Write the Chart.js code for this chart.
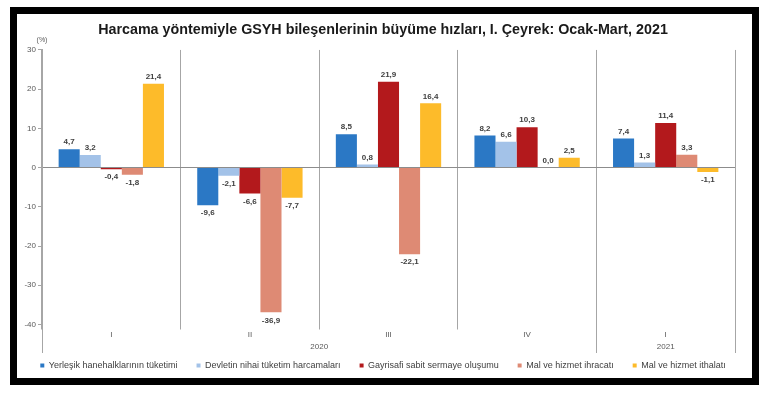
<!DOCTYPE html>
<html><head><meta charset="utf-8">
<script src="https://cdn.jsdelivr.net/npm/chart.js@4.4.1/dist/chart.umd.min.js"></script>
<style>html,body{margin:0;padding:0;background:#fff;} canvas{display:block;}</style>
</head><body>
<canvas id="c" width="766" height="398"></canvas>
<script>
// ---- data ----
const quarterLabels = ['I', 'II', 'III', 'IV', 'I'];
const years = ['2020', '2021'];
const yearSpans = [4, 1];
const seriesNames = [
  'Yerleşik hanehalklarının tüketimi',
  'Devletin nihai tüketim harcamaları',
  'Gayrisafi sabit sermaye oluşumu',
  'Mal ve hizmet ihracatı',
  'Mal ve hizmet ithalatı'
];
const hanehalki = [4.7, -9.6, 8.5, 8.2, 7.4];
const devlet = [3.2, -2.1, 0.8, 6.6, 1.3];
const sabitSermaye = [-0.4, -6.6, 21.9, 10.3, 11.4];
const ihracat = [-1.8, -36.9, -22.1, 0.0, 3.3];
const ithalat = [21.4, -7.7, 16.4, 2.5, -1.1];
const yMin = -40, yMax = 30, yStep = 10;
const chartTitle = 'Harcama yöntemiyle GSYH bileşenlerinin büyüme hızları, I. Çeyrek: Ocak-Mart, 2021';
const unitLabel = '(%)';

const seriesColors = ['#2B78C5', '#A3C2E8', '#B3191C', '#DE8A74', '#FDBB2A'];
const FONT = "'Liberation Sans', Arial, sans-serif";
const GRID = '#A6A6A6';

const fmt = v => v.toFixed(1).replace('.', ',');

const framePlugin = {
  id: 'frame',
  beforeDraw(chart) {
    const c = chart.ctx;
    c.save(); c.fillStyle = '#fff'; c.fillRect(0, 0, chart.width, chart.height); c.restore();
  },
  afterDraw(chart) {
    const c = chart.ctx;
    c.save(); c.strokeStyle = '#000'; c.lineWidth = 7;
    c.strokeRect(13.5, 10.5, 742, 371); c.restore();
  }
};

const extrasPlugin = {
  id: 'extras',
  afterDatasetsDraw(chart) {
    const c = chart.ctx;
    c.save();
    c.font = 'bold 8px ' + FONT;
    c.fillStyle = '#404040';
    c.textAlign = 'center';
    c.textBaseline = 'middle';
    chart.data.datasets.forEach((ds, di) => {
      const meta = chart.getDatasetMeta(di);
      meta.data.forEach((el, i) => {
        const v = ds.data[i];
        const y = v >= 0 ? el.y - 7 : el.y + 8;
        c.fillText(fmt(v), el.x, y);
      });
    });
    c.restore();
  },
  afterDraw(chart) {
    const c = chart.ctx;
    const xs = chart.scales.x;
    const area = chart.chartArea;
    const w = xs.getPixelForValue(1) - xs.getPixelForValue(0);
    c.save();
    c.font = '7px ' + FONT;
    c.fillStyle = '#595959';
    c.textAlign = 'center';
    c.textBaseline = 'middle';
    c.fillText(unitLabel, area.left, 40);
    c.font = '8px ' + FONT;
    c.strokeStyle = GRID;
    c.lineWidth = 1;
    let start = 0;
    const bounds = [xs.getPixelForValue(0) - w / 2];
    years.forEach((yr, k) => {
      const end = start + yearSpans[k];
      const l = xs.getPixelForValue(start) - w / 2;
      const r = xs.getPixelForValue(end - 1) + w / 2;
      bounds.push(r);
      c.fillText(yr, (l + r) / 2, 347);
      start = end;
    });
    bounds.forEach(b => {
      const xx = Math.round(b) + 0.5;
      c.beginPath(); c.moveTo(xx, area.bottom); c.lineTo(xx, 353); c.stroke();
    });
    c.restore();
  }
};

new Chart(document.getElementById('c'), {
  type: 'bar',
  data: {
    labels: quarterLabels,
    datasets: [hanehalki, devlet, sabitSermaye, ihracat, ithalat].map((d, i) => ({
      label: seriesNames[i],
      data: d,
      backgroundColor: seriesColors[i],
      borderWidth: 0,
      categoryPercentage: 0.76,
      barPercentage: 1.0
    }))
  },
  options: {
    responsive: false,
    animation: false,
    devicePixelRatio: 1,
    layout: { padding: { left: 17, right: 17, top: 15, bottom: 18 } },
    plugins: {
      title: {
        display: true,
        text: chartTitle,
        color: '#1a1a1a',
        font: { family: FONT, size: 14.3, weight: 'bold', lineHeight: 1.2 },
        padding: { top: 6.4, bottom: 11.4 }
      },
      legend: {
        position: 'bottom',
        align: 'center',
        labels: {
          font: { family: FONT, size: 9 },
          color: '#404040',
          boxWidth: 4,
          boxHeight: 4,
          padding: 19
        }
      },
      tooltip: { enabled: false }
    },
    scales: {
      x: {
        afterFit: s => { s.height = 17.5; },
        grid: { offset: true, color: GRID, tickColor: GRID, tickLength: 5, lineWidth: 1 },
        border: { display: false },
        ticks: { font: { family: FONT, size: 8 }, color: '#595959', padding: 0, maxRotation: 0, autoSkip: false }
      },
      y: {
        min: yMin, max: yMax,
        afterFit: s => { s.width = 25; },
        ticks: { stepSize: yStep, font: { family: FONT, size: 8 }, color: '#595959', padding: 2 },
        grid: {
          color: ctx => (ctx.tick && ctx.tick.value === 0) ? '#8C8C8C' : 'transparent',
          tickColor: GRID,
          tickLength: 4
        },
        border: { display: true, color: GRID }
      },
      spacer: {
        type: 'linear',
        position: 'right',
        display: true,
        afterFit: s => { s.width = 14; },
        ticks: { display: false },
        grid: { display: false, drawOnChartArea: false, drawTicks: false },
        border: { display: false }
      }
    }
  },
  plugins: [framePlugin, extrasPlugin]
});
</script>
</body></html>
